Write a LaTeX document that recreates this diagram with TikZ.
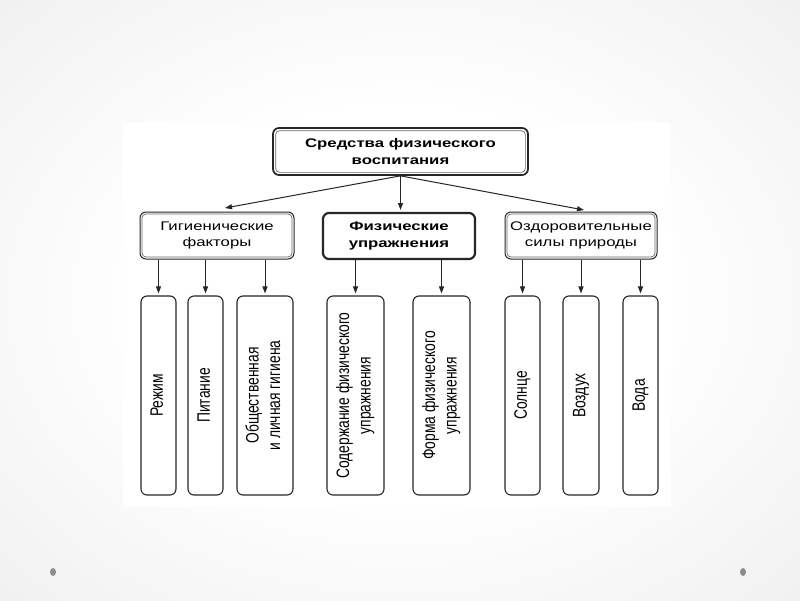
\documentclass[tikz,border=0pt]{standalone}
\usepackage{fontspec}
\usepackage{graphicx}
\setmainfont{Liberation Sans}
\newfontfamily\hfont[FakeStretch=1.34]{Liberation Sans}
\newfontfamily\vfont[FakeStretch=0.77]{Liberation Sans}
\usetikzlibrary{arrows.meta}
\pgfdeclareradialshading{bgshade}{\pgfpoint{0bp}{0bp}}{color(0bp)=(white); color(16bp)=(white); color(40bp)=(black!7); color(50bp)=(black!12); color(71bp)=(black!19)}
\newcommand{\vtxt}[1]{\rotatebox{90}{\vfont\fontsize{18}{21.5}\selectfont\begin{tabular}{@{}c@{}}#1\end{tabular}}}
\begin{document}
\begin{tikzpicture}[x=1pt,y=-1pt,
  ink/.style={draw=black!85, rounded corners=6pt},
  topbox/.style={ink, line width=1.7pt, minimum width=255pt, minimum height=47pt, inner sep=0pt, align=center, font=\hfont\bfseries\fontsize{12.5}{16.5}\selectfont},
  midbox/.style={ink, line width=1.0pt, minimum width=#1, minimum height=47pt, inner sep=0pt, align=center, font=\hfont\fontsize{12.5}{16.5}\selectfont},
  fizbox/.style={ink, line width=2.2pt, minimum width=152pt, minimum height=46pt, inner sep=0pt, align=center, font=\hfont\bfseries\fontsize{12.5}{16.5}\selectfont},
  leaf/.style={ink, line width=1.1pt, minimum width=#1, minimum height=199pt, inner sep=0pt},
  innerline/.style={draw=black!60, line width=0.7pt, rounded corners=4pt},
  arr/.style={draw=black!85, line width=1pt, -{Triangle[length=7pt,width=5pt]}}
]
\useasboundingbox (0,0) rectangle (800,600);
\shade[shading=bgshade] (0,0) rectangle (800,600);
\fill[white] (123,123) rectangle (671,507);
\fill[black!45] (53,572) ellipse [x radius=3pt, y radius=4pt];
\fill[black!45] (743,572) ellipse [x radius=3pt, y radius=4pt];

% top
\node[topbox] (top) at (400.5,151.5) {Средства физического\\воспитания};
\draw[innerline] ([shift={(3.5,3.5)}]top.north west) rectangle ([shift={(-3.5,-3.5)}]top.south east);

% level 2
\node[midbox=154pt] (gig) at (217,235.5) {Гигиенические\\факторы};
\draw[innerline] ([shift={(2.5,2.5)}]gig.north west) rectangle ([shift={(-2.5,-2.5)}]gig.south east);
\node[fizbox] (fiz) at (399,236) {Физические\\упражнения};
\node[midbox=152pt] (ozd) at (581,235.5) {Оздоровительные\\силы природы};
\draw[innerline] ([shift={(2.5,2.5)}]ozd.north west) rectangle ([shift={(-2.5,-2.5)}]ozd.south east);

\coordinate (gigin) at (225,208);
\coordinate (fizin) at (400.5,210);
\coordinate (ozdin) at (584,210);
\draw[arr] (top.south) -- (gigin);
\draw[arr] (top.south) -- (fizin);
\draw[arr] (top.south) -- (ozdin);

% level 3
\node[leaf=35pt] (rez) at (158.5,395.5) {\vtxt{Режим}};
\node[leaf=35pt] (pit) at (205.5,395.5) {\vtxt{Питание}};
\node[leaf=56pt] (obs) at (265,395.5) {\vtxt{Общественная\\и личная гигиена}};
\node[leaf=57pt] (sod) at (355.5,395.5) {\vtxt{Содержание физического\\упражнения}};
\node[leaf=57pt] (for) at (441.5,395.5) {\vtxt{Форма физического\\упражнения}};
\node[leaf=35pt] (sol) at (522.5,395.5) {\vtxt{Солнце}};
\node[leaf=36pt] (voz) at (581,395.5) {\vtxt{Воздух}};
\node[leaf=35pt] (vod) at (640.5,395.5) {\vtxt{Вода}};

\foreach \p/\c in {gig/rez, gig/pit, gig/obs, fiz/sod, fiz/for, ozd/sol, ozd/voz, ozd/vod}
  \draw[arr, shorten >=2pt] (\p.south -| \c.north) -- (\c.north);
\end{tikzpicture}
\end{document}
